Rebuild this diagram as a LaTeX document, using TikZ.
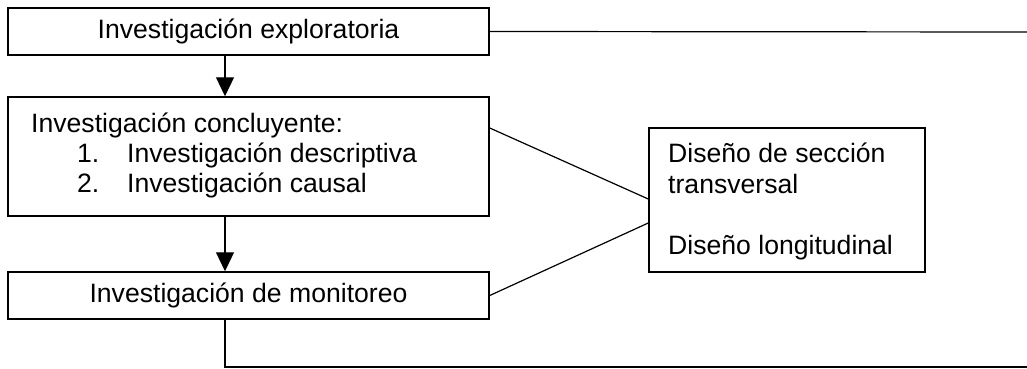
\documentclass[tikz,border=0pt]{standalone}
\usepackage{fontspec}
\setmainfont{Liberation Sans}
\usetikzlibrary{arrows.meta}

\begin{document}
\begin{tikzpicture}[x=1pt, y=-1pt,
		caja/.style={draw, line width=1.5pt, inner sep=0pt},
		linea/.style={line width=1.2pt},
		flecha/.style={line width=1.2pt, -{Triangle[length=19pt, width=18pt]}},
		texto/.style={inner sep=0pt, anchor=base west},
		font=\fontsize{26.6}{30}\selectfont]
	%%%%% START %%%%%
	\useasboundingbox (0, 0) rectangle (1027, 369);
	
	\node[caja, minimum width=481pt, minimum height=47pt] (explo) at (248.5, 31.5) {Investigación exploratoria};
	\node[caja, minimum width=481pt, minimum height=119pt] (conc) at (248.5, 156.5) {};
	\node[caja, minimum width=481pt, minimum height=47pt] (moni) at (248.5, 295.5) {Investigación de monitoreo};
	\node[caja, minimum width=276pt, minimum height=144pt] (dis) at (787, 200) {};
	
	\node[texto] (conc1) at (31, 132) {Investigación concluyente:};
	\node[texto] (conc2) at (77, 162) {1.};
	\node[texto] (conc2b) at (127, 162) {Investigación descriptiva};
	\node[texto] (conc3) at (77, 192) {2.};
	\node[texto] (conc3b) at (127, 192) {Investigación causal};
	
	\node[texto] (dis1) at (668, 162) {Diseño de sección};
	\node[texto] (dis2) at (668, 193) {transversal};
	\node[texto] (dis3) at (668, 254) {Diseño longitudinal};
	
	\coordinate (finA) at (1027, 32);
	\coordinate (finB) at (1027, 367);
	
	\draw[flecha] ([xshift=-23.5pt]explo.south) -- ([xshift=-23.5pt]conc.north);
	\draw[flecha] ([xshift=-23.5pt]conc.south) -- ([xshift=-23.5pt]moni.north);
	
	\draw[linea] (explo.east) -- (finA);
	\draw[linea] ([yshift=28.5pt]conc.east) -- ([yshift=1pt]dis.west);
	\draw[linea] (moni.east) -- ([yshift=-23pt]dis.west);
	\draw[linea] ([xshift=-23.5pt]moni.south) |- (finB);
	%%%%% END %%%%%
\end{tikzpicture}
\end{document}
